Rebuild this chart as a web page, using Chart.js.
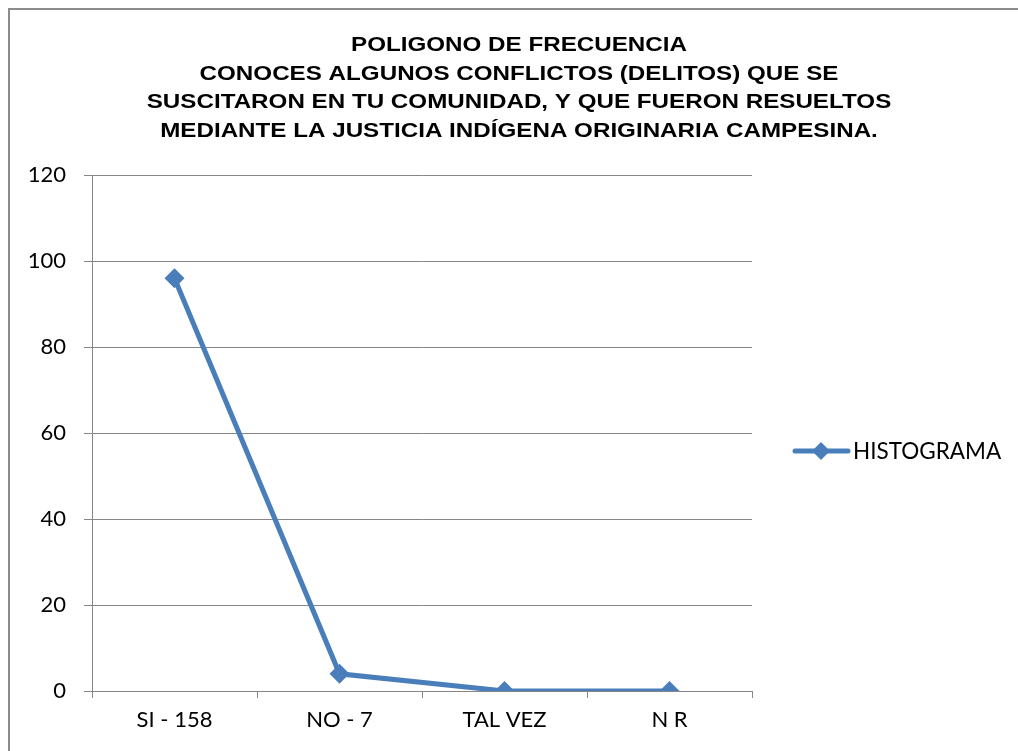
<!DOCTYPE html>
<html>
<head>
<meta charset="utf-8">
<script src="https://cdn.jsdelivr.net/npm/chart.js@4"></script>
<style>
  html, body { margin: 0; padding: 0; background: #fff; overflow: hidden; }
  #wrap { position: relative; width: 1018px; height: 751px; }
  #frame { position: absolute; left: 8px; top: 8px; right: 0; bottom: 0; border-left: 2px solid #8c8c8c; border-top: 2px solid #8c8c8c; }
</style>
</head>
<body>
<div id="wrap">
  <div id="frame"></div>
  <canvas id="freqChart" width="1018" height="751" style="position:absolute;left:0;top:0"></canvas>
</div>
<script>
// Chart data
const categories = ['SI - 158', 'NO - 7', 'TAL VEZ', 'N R'];
const histogramValues = [96, 4, 0, 0];
const yTicks = [0, 20, 40, 60, 80, 100, 120];
const titleLines = [
    'POLIGONO DE FRECUENCIA',
    'CONOCES ALGUNOS CONFLICTOS (DELITOS) QUE SE',
    'SUSCITARON EN TU COMUNIDAD, Y QUE FUERON RESUELTOS',
    'MEDIANTE LA JUSTICIA INDÍGENA ORIGINARIA CAMPESINA.'
];
const seriesName = 'HISTOGRAMA';

const lineColor = '#4A7EBB';
const gridColor = '#868686';
const axisFont = 'Lato, "Open Sans", sans-serif';

// Draws the multi-line title and the right-hand legend (line + diamond + label)
const titleAndLegend = {
    id: 'titleAndLegend',
    afterDraw(chart) {
        const ctx = chart.ctx;
        ctx.save();
        ctx.fillStyle = '#000';
        ctx.font = 'bold 20.5px Arial, "Liberation Sans", sans-serif';
        ctx.textAlign = 'center';
        ctx.textBaseline = 'middle';
        titleLines.forEach((line, i) => {
            // the original title is drawn a bit wider than a normal Arial bold
            ctx.save();
            ctx.translate(519, 45.5 + i * 28.5);
            ctx.scale(1.18, 1);
            ctx.fillText(line, 0, 0);
            ctx.restore();
        });

        // legend
        const ly = 451;
        ctx.strokeStyle = lineColor;
        ctx.lineWidth = 5;
        ctx.lineCap = 'round';
        ctx.beginPath();
        ctx.moveTo(795, ly);
        ctx.lineTo(848, ly);
        ctx.stroke();
        ctx.fillStyle = lineColor;
        ctx.beginPath();
        ctx.moveTo(821, ly - 9);
        ctx.lineTo(830, ly);
        ctx.lineTo(821, ly + 9);
        ctx.lineTo(812, ly);
        ctx.closePath();
        ctx.fill();

        ctx.fillStyle = '#000';
        ctx.font = '22.5px ' + axisFont;
        ctx.textAlign = 'left';
        ctx.fillText(seriesName, 853, ly + 1);
        ctx.restore();
    }
};

const ctx = document.getElementById('freqChart').getContext('2d');
new Chart(ctx, {
    type: 'line',
    data: {
        labels: categories,
        datasets: [{
            label: seriesName,
            data: histogramValues,
            borderColor: lineColor,
            backgroundColor: lineColor,
            borderWidth: 5,
            tension: 0,
            fill: false,
            pointStyle: 'rectRot',
            pointRadius: 10,
            pointHoverRadius: 10,
            pointBorderWidth: 0
        }]
    },
    options: {
        responsive: false,
        animation: false,
        layout: { padding: { left: 0, top: 175, right: 266, bottom: 0 } },
        plugins: {
            legend: { display: false },
            title: { display: false },
            tooltip: { enabled: false }
        },
        scales: {
            x: {
                offset: true,
                grid: {
                    offset: true,
                    drawOnChartArea: false,
                    drawTicks: true,
                    tickLength: 7,
                    color: gridColor
                },
                border: { color: gridColor, width: 1 },
                ticks: {
                    color: '#000',
                    padding: 9,
                    font: { family: axisFont, size: 22 }
                },
                afterFit(scale) { scale.height = 60; }
            },
            y: {
                min: 0,
                max: 120,
                afterBuildTicks(scale) { scale.ticks = yTicks.map(v => ({ value: v })); },
                grid: {
                    color: gridColor,
                    tickLength: 8,
                    lineWidth: 1
                },
                border: { color: gridColor, width: 1 },
                ticks: {
                    color: '#000',
                    padding: 18,
                    font: { family: axisFont, size: 22 }
                },
                afterFit(scale) { scale.width = 92; }
            }
        }
    },
    plugins: [titleAndLegend]
});
</script>
</body>
</html>
